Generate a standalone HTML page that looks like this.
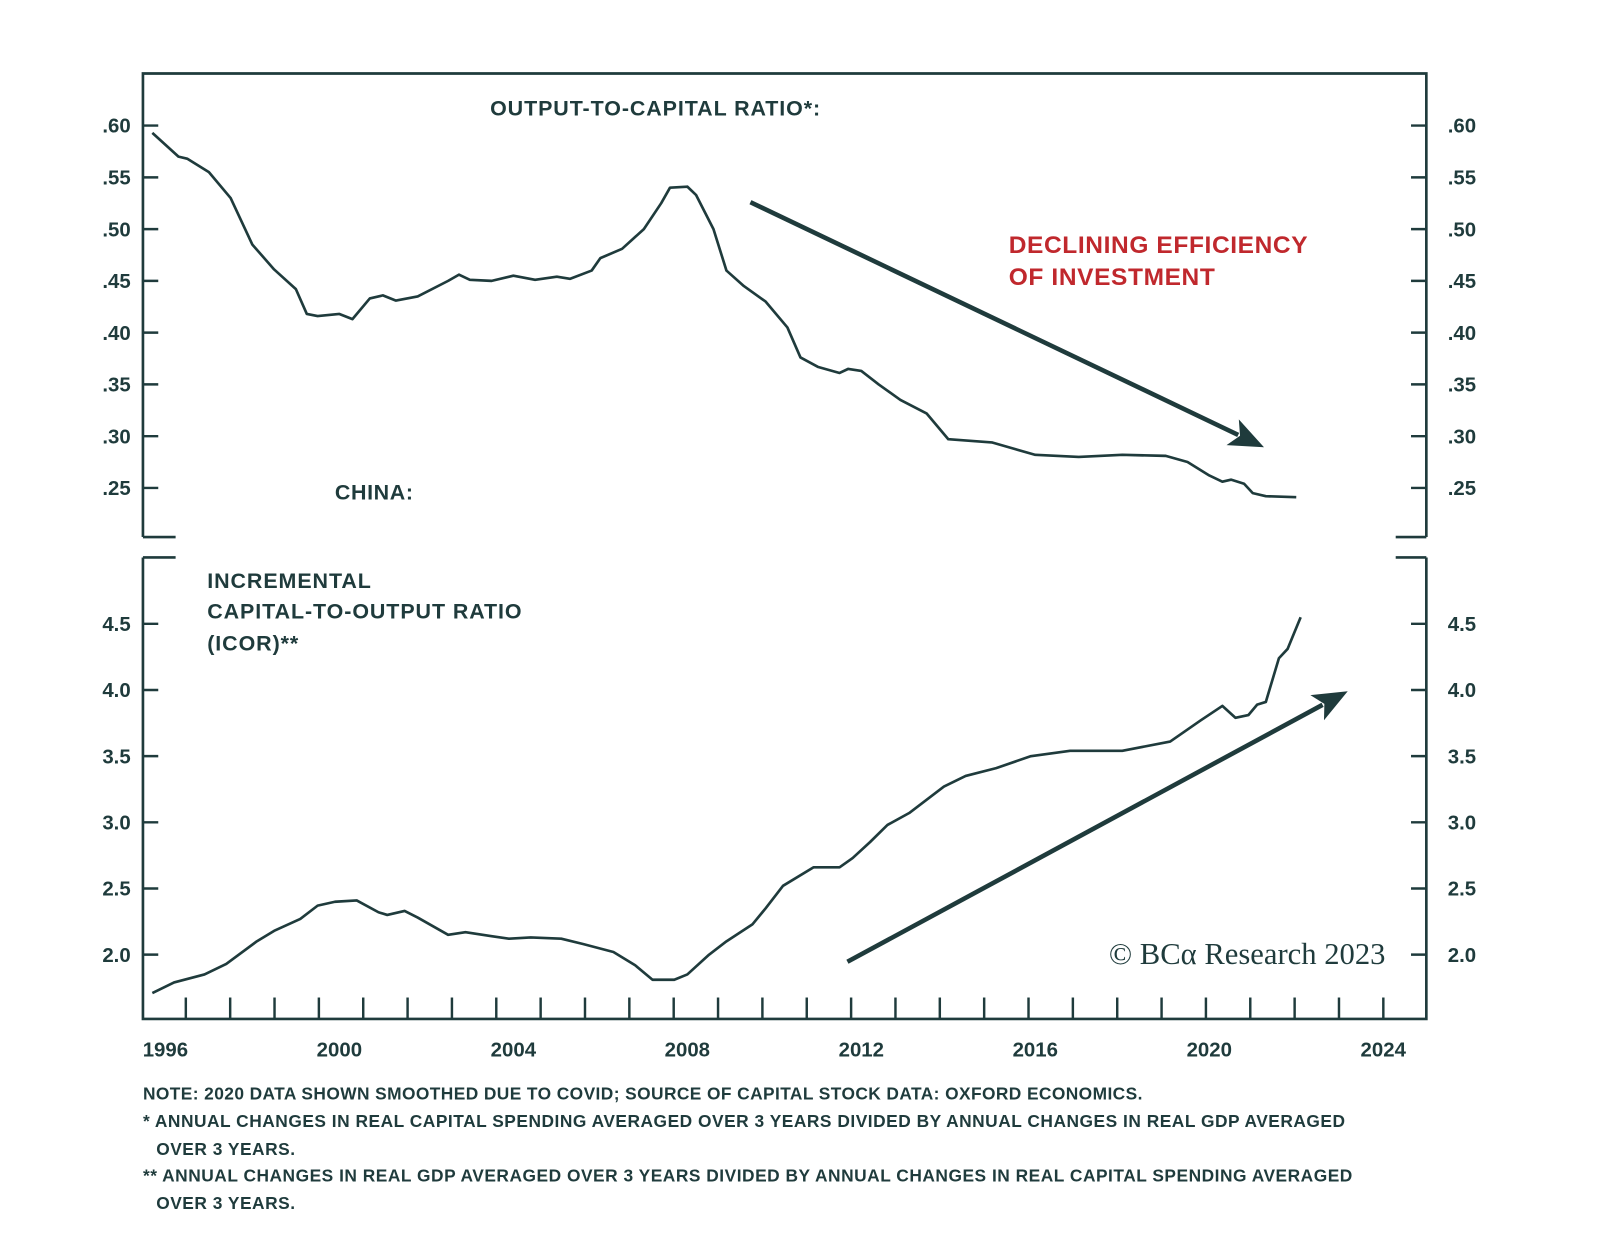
<!DOCTYPE html>
<html><head><meta charset="utf-8"><style>
html,body{margin:0;padding:0;background:#fff;}
svg{display:block;}
text{font-family:"Liberation Sans Narrow","Liberation Sans",sans-serif;fill:#1f3b3c;}
</style></head><body>
<svg id="chart" width="1600" height="1240" viewBox="0 0 1600 1240" xmlns="http://www.w3.org/2000/svg">
<g id="root" transform="scale(1.021)"></g>
</svg>
<script>
// ---- data ----
const topYears = [1995.7,1996.3,1996.5,1997.0,1997.5,1998.0,1998.5,1999.0,1999.25,1999.5,2000.0,2000.3,2000.7,2001.0,2001.3,2001.8,2002.5,2002.75,2003.0,2003.5,2004.0,2004.5,2005.0,2005.3,2005.8,2006.0,2006.5,2007.0,2007.4,2007.6,2008.0,2008.2,2008.6,2008.9,2009.3,2009.8,2010.3,2010.6,2011.0,2011.5,2011.7,2012.0,2012.4,2012.9,2013.5,2014.0,2015.0,2015.5,2016.0,2017.0,2018.0,2019.0,2019.5,2020.0,2020.3,2020.5,2020.8,2021.0,2021.3,2022.0];
const topValues = [.593,.570,.568,.555,.530,.485,.461,.442,.418,.416,.418,.413,.433,.436,.431,.435,.450,.456,.451,.450,.455,.451,.454,.452,.460,.472,.481,.500,.525,.540,.541,.533,.500,.460,.445,.430,.405,.376,.367,.361,.365,.363,.350,.335,.322,.297,.294,.288,.282,.280,.282,.281,.275,.262,.256,.258,.254,.245,.242,.241];
const botYears = [1995.7,1996.2,1996.9,1997.4,1998.1,1998.5,1999.1,1999.5,1999.9,2000.4,2000.9,2001.1,2001.5,2001.8,2002.5,2002.9,2003.5,2003.9,2004.4,2005.1,2005.6,2006.3,2006.8,2007.2,2007.7,2008.0,2008.5,2008.9,2009.5,2009.8,2010.2,2010.9,2011.5,2011.8,2012.2,2012.6,2013.1,2013.9,2014.4,2015.1,2015.9,2016.8,2018.0,2019.1,2019.8,2020.3,2020.6,2020.9,2021.1,2021.3,2021.6,2021.8,2022.1];
const botValues = [1.71,1.79,1.85,1.93,2.10,2.18,2.27,2.37,2.40,2.41,2.32,2.30,2.33,2.28,2.15,2.17,2.14,2.12,2.13,2.12,2.08,2.02,1.92,1.81,1.81,1.85,2.00,2.10,2.23,2.35,2.52,2.66,2.66,2.73,2.85,2.98,3.07,3.27,3.35,3.41,3.50,3.54,3.54,3.61,3.77,3.88,3.79,3.81,3.89,3.91,4.24,4.31,4.55];
const topTicks = [.60,.55,.50,.45,.40,.35,.30,.25];
const topTickLabels = [".60",".55",".50",".45",".40",".35",".30",".25"];
const botTicks = [4.5,4.0,3.5,3.0,2.5,2.0];
const botTickLabels = ["4.5","4.0","3.5","3.0","2.5","2.0"];
const yearLabels = [1996,2000,2004,2008,2012,2016,2020,2024];

// ---- scales ----
const X = yr => 162 + (yr - 1996) * 42.6;
const YT = v => 123 + (0.60 - v) / 0.05 * 50.7;
const YB = v => 935 - (v - 2.0) / 0.5 * 64.8;
const C = "#1f3b3c";
const NS = "http://www.w3.org/2000/svg";
const root = document.getElementById('root');
function mk(tag, attrs, parent){const e=document.createElementNS(NS,tag);for(const k in attrs)e.setAttribute(k,attrs[k]);(parent||root).appendChild(e);return e;}

const f1 = mk('path',{d:'M140 526 V72 H1397 V526 M140 526 H172 M1367 526 H1397',fill:'none',stroke:C,'stroke-width':2.6});


const f2 = mk('path',{d:'M140 546 V998 H1397 V546 M140 546 H172 M1367 546 H1397',fill:'none',stroke:C,'stroke-width':2.6});



topTicks.forEach((v,i)=>{
  const y=YT(v);
  const t=mk('path',{d:`M140 ${y} H155 M1382 ${y} H1397`,stroke:C,'stroke-width':2.4});
  
  
  const l=mk('text',{x:128,y:y+7,'text-anchor':'end','font-size':20,'font-weight':'bold'});
  l.textContent=topTickLabels[i];
  
  
  const r=mk('text',{x:1418,y:y+7,'font-size':20,'font-weight':'bold'});
  r.textContent=topTickLabels[i];
  
  
});
botTicks.forEach((v,i)=>{
  const y=YB(v);
  const t=mk('path',{d:`M140 ${y} H155 M1382 ${y} H1397`,stroke:C,'stroke-width':2.4});
  
  
  const l=mk('text',{x:128,y:y+7,'text-anchor':'end','font-size':20,'font-weight':'bold'});
  l.textContent=botTickLabels[i];
  
  
  const r=mk('text',{x:1418,y:y+7,'font-size':20,'font-weight':'bold'});
  r.textContent=botTickLabels[i];
  
  
});
for(let k=0;k<28;k++){
  const x=182+k*43.44;
  const t=mk('path',{d:`M${x} 998 V977`,stroke:C,'stroke-width':2.4});
  
  
}
yearLabels.forEach(yr=>{
  const l=mk('text',{x:X(yr),y:1035,'text-anchor':'middle','font-size':20,'font-weight':'bold','font-family':'Liberation Sans, sans-serif'});
  l.textContent=yr;
  
  
});

const p1=mk('polyline',{points:topYears.map((y,i)=>`${X(y).toFixed(1)},${YT(topValues[i]).toFixed(1)}`).join(' '),fill:'none',stroke:C,'stroke-width':2.6,'stroke-linejoin':'round'});


const p2=mk('polyline',{points:botYears.map((y,i)=>`${X(y).toFixed(1)},${YB(botValues[i]).toFixed(1)}`).join(' '),fill:'none',stroke:C,'stroke-width':2.6,'stroke-linejoin':'round'});



function arrow(x1,y1,x2,y2,name){
  const g=mk('g',{});
  
  
  const a=Math.atan2(y2-y1,x2-x1),L=34,W=14;
  const bx=x2-L*Math.cos(a),by=y2-L*Math.sin(a);
  mk('line',{x1,y1,x2:bx+6*Math.cos(a),y2:by+6*Math.sin(a),stroke:C,'stroke-width':4.5},g);
  const px=-Math.sin(a),py=Math.cos(a);
  mk('polygon',{points:`${x2},${y2} ${bx+px*W},${by+py*W} ${bx+8*Math.cos(a)},${by+8*Math.sin(a)} ${bx-px*W},${by-py*W}`,fill:C},g);
}
arrow(735,198,1238,438,'declining-arrow');
arrow(830,942,1320,677,'rising-arrow');
</script>
<svg style="position:absolute;left:0;top:0" width="1600" height="1240" viewBox="0 0 1600 1240">
<g transform="scale(1.021)">
<text x="480" y="113" font-size="21" font-weight="bold" letter-spacing="0.9">OUTPUT-TO-CAPITAL RATIO*:</text>
<text x="328" y="489" font-size="21" font-weight="bold" letter-spacing="0.6">CHINA:</text>
<text x="988" y="248" font-size="24" font-weight="bold" letter-spacing="0.6" style="fill:#c0282d">DECLINING EFFICIENCY</text>
<text x="988" y="279" font-size="24" font-weight="bold" letter-spacing="0.6" style="fill:#c0282d">OF INVESTMENT</text>
<text x="203" y="576" font-size="21" font-weight="bold" letter-spacing="0.9">INCREMENTAL</text>
<text x="203" y="606" font-size="21" font-weight="bold" letter-spacing="0.9">CAPITAL-TO-OUTPUT RATIO</text>
<text x="203" y="637" font-size="21" font-weight="bold" letter-spacing="0.9">(ICOR)**</text>
<text x="1357" y="944" text-anchor="end" font-size="30" style="font-family:'Liberation Serif',serif">© BCα Research 2023</text>
<text x="140" y="1077" font-size="17" font-weight="bold" letter-spacing="0.4">NOTE: 2020 DATA SHOWN SMOOTHED DUE TO COVID; SOURCE OF CAPITAL STOCK DATA: OXFORD ECONOMICS.</text>
<text x="140" y="1104" font-size="17" font-weight="bold" letter-spacing="0.5">*  ANNUAL CHANGES IN REAL CAPITAL SPENDING AVERAGED OVER 3 YEARS DIVIDED BY ANNUAL CHANGES IN REAL GDP AVERAGED</text>
<text x="153" y="1131" font-size="17" font-weight="bold" letter-spacing="0.5">OVER 3 YEARS.</text>
<text x="140" y="1157" font-size="17" font-weight="bold" letter-spacing="0.5">** ANNUAL CHANGES IN REAL GDP AVERAGED OVER 3 YEARS DIVIDED BY ANNUAL CHANGES IN REAL CAPITAL SPENDING AVERAGED</text>
<text x="153" y="1184" font-size="17" font-weight="bold" letter-spacing="0.5">OVER 3 YEARS.</text>
</g>
</svg>
</body></html>
